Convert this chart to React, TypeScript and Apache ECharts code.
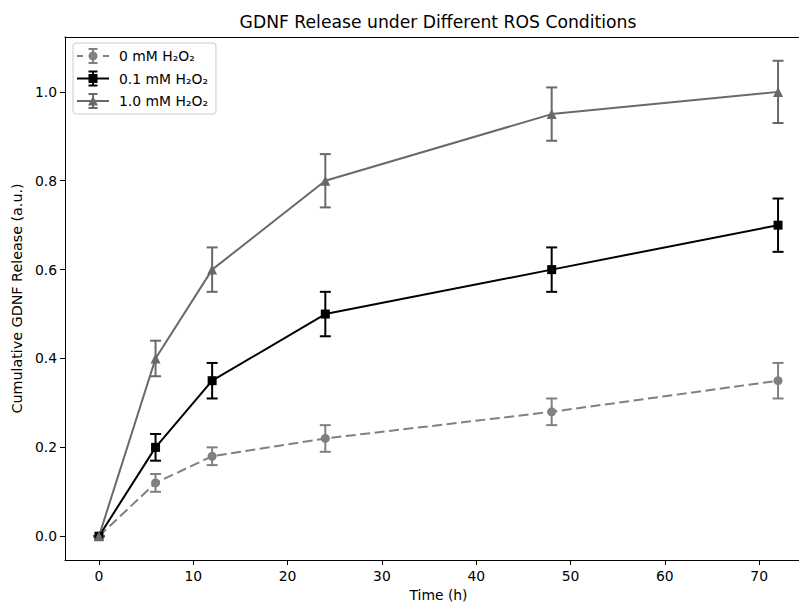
import React, { useEffect, useRef } from 'react';
import * as echarts from 'echarts';

const times = [0, 6, 12, 24, 48, 72];
const ctrlMean = [0, 0.12, 0.18, 0.22, 0.28, 0.35];
const ctrlErr = [0, 0.02, 0.02, 0.03, 0.03, 0.04];
const lowMean = [0, 0.2, 0.35, 0.5, 0.6, 0.7];
const lowErr = [0, 0.03, 0.04, 0.05, 0.05, 0.06];
const highMean = [0, 0.4, 0.6, 0.8, 0.95, 1.0];
const highErr = [0, 0.04, 0.05, 0.06, 0.06, 0.07];
const seriesNames = ['0 mM H₂O₂', '0.1 mM H₂O₂', '1.0 mM H₂O₂'];
const xTicks = [0, 10, 20, 30, 40, 50, 60, 70];
const yTicks = [0, 0.2, 0.4, 0.6, 0.8, 1.0];

const FONT = 'DejaVu Sans';
const colors = ['#808080', '#000000', '#696969'];
const symbols = ['circle', 'rect', 'triangle'];

const icons = [
  'path://M0 7 h6 v2 h-6 Z M26 7 h6 v2 h-6 Z M15 1 h2 v14 h-2 Z M11.5 0 h9 v2 h-9 Z M11.5 14 h9 v2 h-9 Z M11.5 8 A4.5 4.5 0 1 1 20.5 8 A4.5 4.5 0 1 1 11.5 8 Z',
  'path://M0 7 h32 v2 h-32 Z M15 1 h2 v14 h-2 Z M11.5 0 h9 v2 h-9 Z M11.5 14 h9 v2 h-9 Z M11.5 3.5 h9 v9 h-9 Z',
  'path://M0 7 h32 v2 h-32 Z M15 1 h2 v14 h-2 Z M11.5 0 h9 v2 h-9 Z M11.5 14 h9 v2 h-9 Z M16 3 L21 12.5 L11 12.5 Z',
];

function errRender(color: string) {
  return (params: any, api: any) => {
    const x = api.value(0);
    const lo = api.value(1);
    const hi = api.value(2);
    const p1 = api.coord([x, lo]);
    const p2 = api.coord([x, hi]);
    const hw = 5.5;
    const style = { stroke: color, lineWidth: 2, fill: null };
    return {
      type: 'group',
      children: [
        { type: 'line', shape: { x1: p1[0], y1: p1[1], x2: p2[0], y2: p2[1] }, style },
        { type: 'line', shape: { x1: p1[0] - hw, y1: p1[1], x2: p1[0] + hw, y2: p1[1] }, style },
        { type: 'line', shape: { x1: p2[0] - hw, y1: p2[1], x2: p2[0] + hw, y2: p2[1] }, style },
      ],
    };
  };
}

export default function App() {
  const ref = useRef<HTMLDivElement>(null);
  useEffect(() => {
    if (!ref.current) return;
    const chart = echarts.init(ref.current, undefined, { renderer: 'svg' });
    const means = [ctrlMean, lowMean, highMean];
    const errs = [ctrlErr, lowErr, highErr];
    const series: any[] = [];
    means.forEach((m, k) => {
      series.push({
        type: 'custom',
        name: seriesNames[k] + ' error',
        silent: true,
        renderItem: errRender(colors[k]),
        encode: { x: 0, y: [1, 2] },
        data: times.map((t, i) => [t, m[i] - errs[k][i], m[i] + errs[k][i]]),
      });
      series.push({
        type: 'line',
        name: seriesNames[k],
        silent: true,
        data: times.map((t, i) => [t, m[i]]),
        symbol: symbols[k],
        symbolSize: k === 2 ? 10 : 9,
        showSymbol: true,
        lineStyle: { color: colors[k], width: 2, type: k === 0 ? [10, 4.5] : 'solid' },
        itemStyle: { color: colors[k], borderWidth: 0 },
        emphasis: { disabled: true },
      });
    });
    chart.setOption({
      animation: false,
      title: {
        text: 'GDNF Release under Different ROS Conditions',
        left: 438,
        top: 13,
        textAlign: 'center',
        padding: 0,
        textStyle: { fontFamily: FONT, fontSize: 17.2, fontWeight: 'normal', color: '#000' },
      },
      legend: {
        left: 73,
        top: 43,
        orient: 'vertical',
        padding: [5, 8, 5, 4],
        itemWidth: 32,
        itemHeight: 16,
        itemGap: 6.5,
        backgroundColor: '#fff',
        borderColor: '#cccccc',
        borderWidth: 1,
        borderRadius: 3,
        selectedMode: false,
        itemStyle: { borderWidth: 0 },
        textStyle: { fontFamily: FONT, fontSize: 13.9, color: '#000', padding: [0, 0, 0, 5] },
        data: seriesNames.map((n, i) => ({ name: n, icon: icons[i] })),
      },
      grid: {
        left: 65,
        right: 0,
        top: 37,
        bottom: 42,
        containLabel: false,
        outerBoundsMode: 'none',
      },
      xAxis: [
        {
          type: 'value',
          min: -3.6,
          max: 75.6,
          name: 'Time (h)',
          nameLocation: 'middle',
          nameGap: 28,
          nameTextStyle: { fontFamily: FONT, fontSize: 13.9, color: '#000' },
          axisLine: { show: true, onZero: false, lineStyle: { color: '#000', width: 1 } },
          axisTick: { show: true, length: 5, customValues: xTicks, lineStyle: { color: '#000', width: 1 } },
          axisLabel: { customValues: xTicks, margin: 9, fontFamily: FONT, fontSize: 13.9, color: '#000' },
          splitLine: { show: false },
        },
        {
          type: 'value',
          position: 'top',
          min: -3.6,
          max: 75.6,
          axisLine: { show: true, onZero: false, lineStyle: { color: '#000', width: 1 } },
          axisTick: { show: false },
          axisLabel: { show: false },
          splitLine: { show: false },
        },
      ],
      yAxis: {
        type: 'value',
        min: -0.0535,
        max: 1.1235,
        name: 'Cumulative GDNF Release (a.u.)',
        nameLocation: 'middle',
        nameGap: 38,
        nameRotate: 90,
        nameTextStyle: { fontFamily: FONT, fontSize: 14.3, color: '#000' },
        axisLine: { show: true, onZero: false, lineStyle: { color: '#000', width: 1 } },
        axisTick: { show: true, length: 5, customValues: yTicks, lineStyle: { color: '#000', width: 1 } },
        axisLabel: {
          customValues: yTicks,
          margin: 8,
          fontFamily: FONT,
          fontSize: 13.9,
          color: '#000',
          formatter: (v: number) => v.toFixed(1),
        },
        splitLine: { show: false },
      },
      series,
    });
    return () => chart.dispose();
  }, []);
  return (
    <div
      style={{ position: 'absolute', left: 0, top: 0, width: 799, height: 602, overflow: 'hidden', background: '#fff' }}
    >
      <div ref={ref} style={{ width: 812, height: 602 }} />
    </div>
  );
}
